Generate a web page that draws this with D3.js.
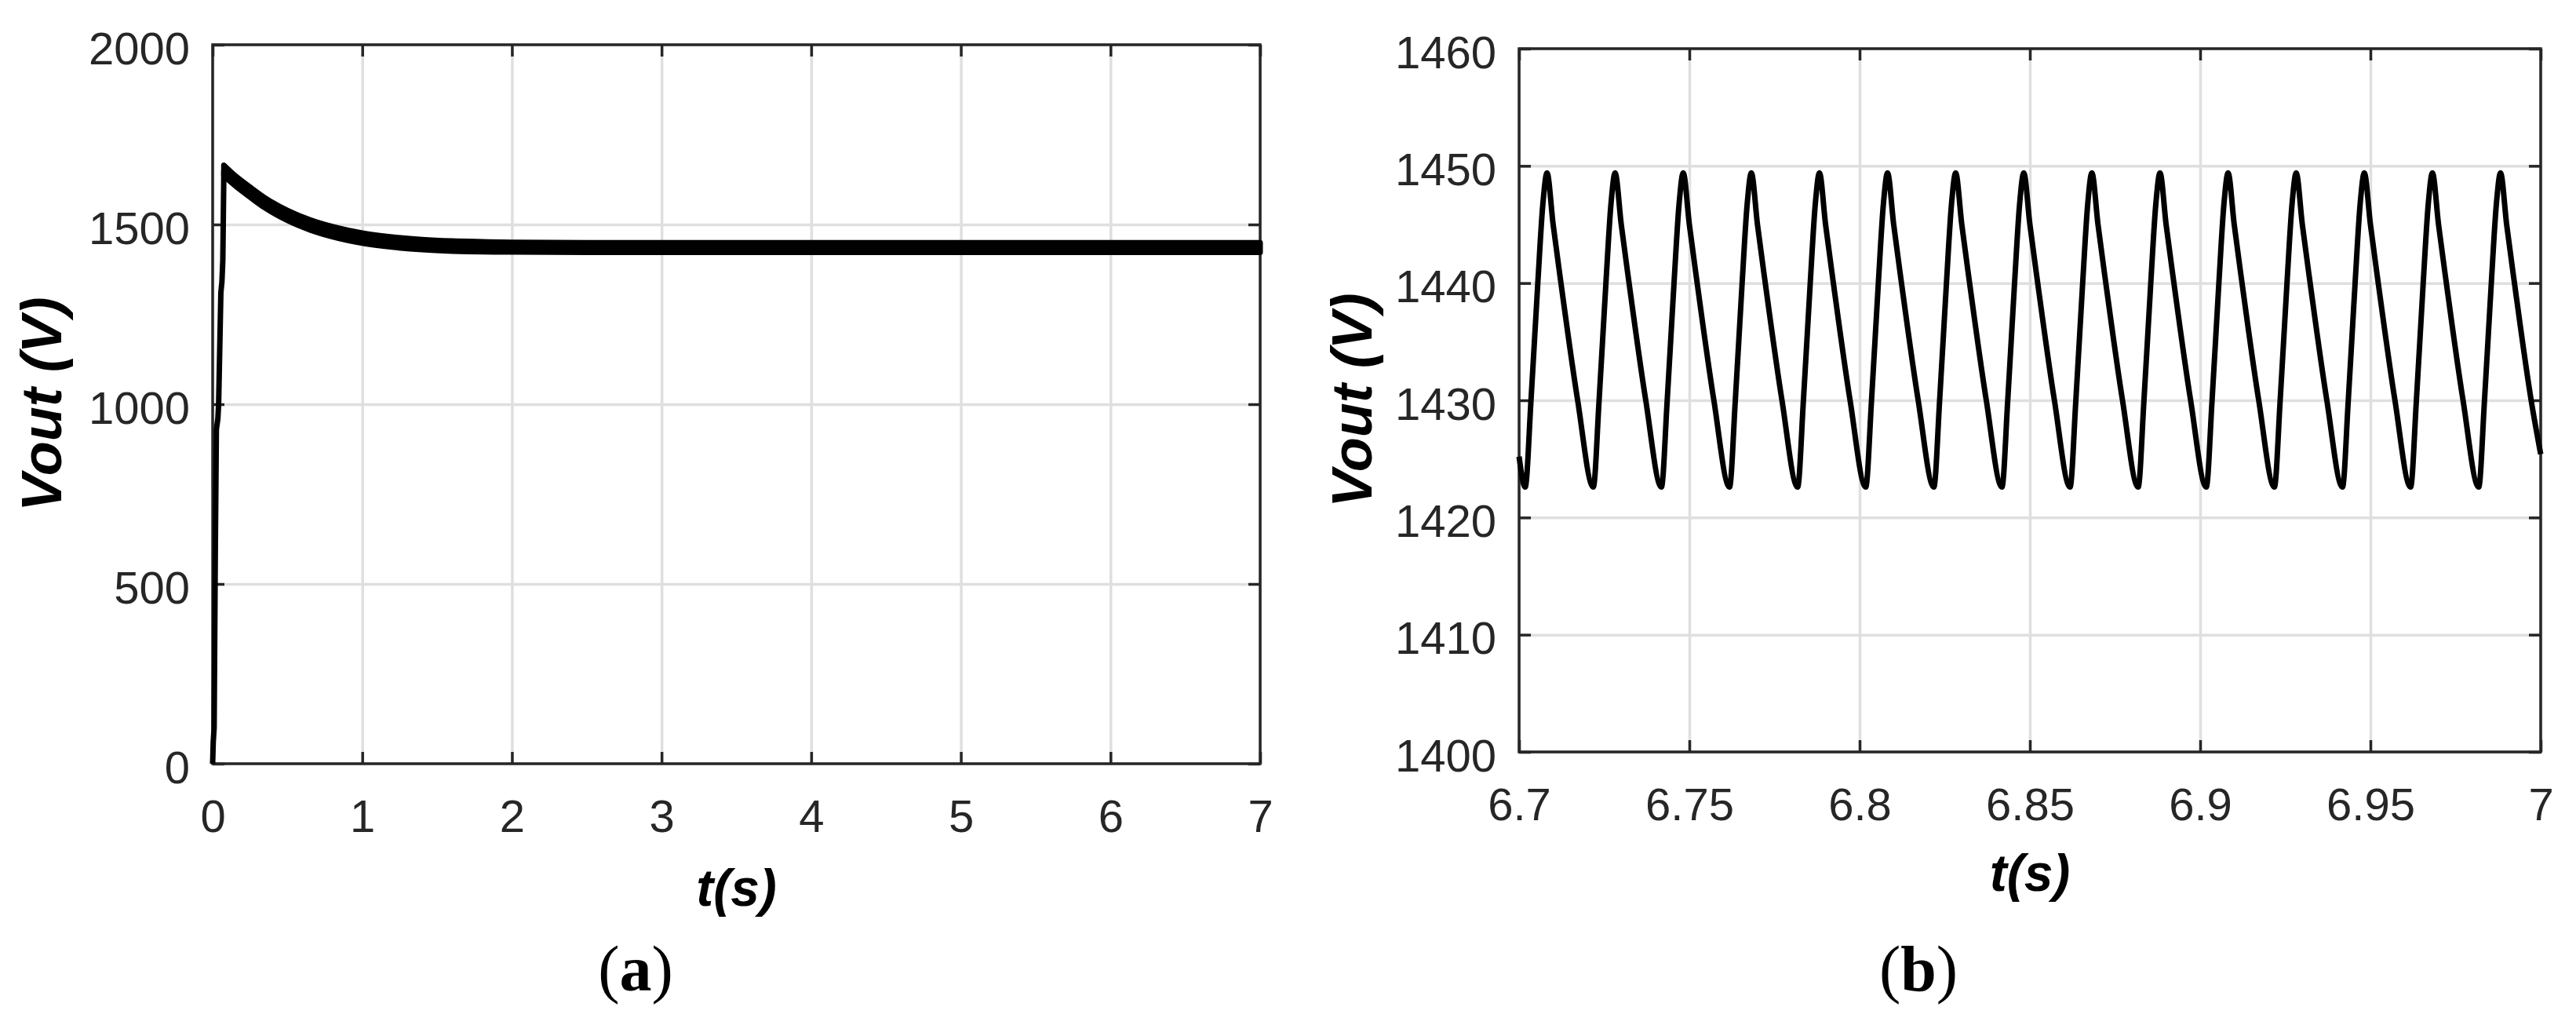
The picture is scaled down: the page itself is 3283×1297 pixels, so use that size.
<!DOCTYPE html>
<html>

<head>

<meta charset="utf-8">
<style>

    body {
        margin: 0;
        background: #fff;
    }

    svg {
        display: block;
        background: #fff;
    }

    .grid line {
        stroke: #dfdfdf;
        stroke-width: 3.5;
    }

    .grid path, .ticks path {
        display: none;
    }

    .ticks line {
        stroke: #262626;
        stroke-width: 3.5;
    }

    .ticks text {
        font-family: "Liberation Sans", Arial, sans-serif;
        font-size: 58px;
        fill: #262626;
    }

    .frame {
        fill: none;
        stroke: #262626;
        stroke-width: 3.5;
    }

    .axlabel {
        font-family: "Liberation Sans", Arial, sans-serif;
        font-size: 66px;
        font-weight: bold;
        font-style: italic;
        fill: #000;
    }

    .ylab {
        font-size: 72px;
    }

    .caption {
        font-family: "Liberation Serif", "Times New Roman", serif;
        font-size: 82px;
        fill: #000;
    }

</style>

</head>

<body>

<script src="https://d3js.org/d3.v7.min.js"></script>

<script>

    // (a) start-up transient, 0..7 s
    var aRiseT = [0.000, 0.004, 0.010, 0.018, 0.025, 0.035, 0.040, 0.055, 0.062, 0.068, 0.075];
    var aRiseV = [0, 60, 100, 600, 930, 960, 1000, 1310, 1340, 1400, 1650];

    // ripple envelope (upper / lower) after the overshoot
    var aEnvT  = [0.075, 0.15, 0.25, 0.35, 0.5, 0.65, 0.8, 1.0, 1.2, 1.4, 1.6, 1.8, 2.0, 2.5, 3, 4, 5, 6, 7];
    var aEnvHi = [1665, 1636, 1604, 1574, 1539, 1513, 1494, 1476, 1465, 1458, 1454, 1452, 1450.5, 1449.5, 1449.4, 1449.4, 1449.4, 1449.4, 1449.4];
    var aEnvLo = [1635, 1608, 1576, 1546, 1511, 1485, 1466, 1448, 1437, 1430, 1426, 1424, 1423.5, 1422.6, 1422.6, 1422.6, 1422.6, 1422.6, 1422.6];

    var aTicksX = [0, 1, 2, 3, 4, 5, 6, 7];
    var aTicksY = [0, 500, 1000, 1500, 2000];

    // (b) zoom on the steady-state ripple, 6.7..7 s
    var bT = [
        6.7000,
        6.7018, 6.7035, 6.7055, 6.7070, 6.7082, 6.7100, 6.7123, 6.7172,
        6.7218, 6.7235, 6.7255, 6.7270, 6.7282, 6.7300, 6.7323, 6.7372,
        6.7418, 6.7435, 6.7455, 6.7470, 6.7482, 6.7500, 6.7523, 6.7572,
        6.7618, 6.7635, 6.7655, 6.7670, 6.7682, 6.7700, 6.7723, 6.7772,
        6.7818, 6.7835, 6.7855, 6.7870, 6.7882, 6.7900, 6.7923, 6.7972,
        6.8018, 6.8035, 6.8055, 6.8070, 6.8082, 6.8100, 6.8123, 6.8172,
        6.8218, 6.8235, 6.8255, 6.8270, 6.8282, 6.8300, 6.8323, 6.8372,
        6.8418, 6.8435, 6.8455, 6.8470, 6.8482, 6.8500, 6.8523, 6.8572,
        6.8618, 6.8635, 6.8655, 6.8670, 6.8682, 6.8700, 6.8723, 6.8772,
        6.8818, 6.8835, 6.8855, 6.8870, 6.8882, 6.8900, 6.8923, 6.8972,
        6.9018, 6.9035, 6.9055, 6.9070, 6.9082, 6.9100, 6.9123, 6.9172,
        6.9218, 6.9235, 6.9255, 6.9270, 6.9282, 6.9300, 6.9323, 6.9372,
        6.9418, 6.9435, 6.9455, 6.9470, 6.9482, 6.9500, 6.9523, 6.9572,
        6.9618, 6.9635, 6.9655, 6.9670, 6.9682, 6.9700, 6.9723, 6.9772,
        6.9818, 6.9835, 6.9855, 6.9870, 6.9882, 6.9900, 6.9923, 6.9972,
        7.0000
    ];
    var bV = [
        1425.2,
        1422.6, 1430, 1440, 1446.8, 1449.4, 1445, 1440, 1430,
        1422.6, 1430, 1440, 1446.8, 1449.4, 1445, 1440, 1430,
        1422.6, 1430, 1440, 1446.8, 1449.4, 1445, 1440, 1430,
        1422.6, 1430, 1440, 1446.8, 1449.4, 1445, 1440, 1430,
        1422.6, 1430, 1440, 1446.8, 1449.4, 1445, 1440, 1430,
        1422.6, 1430, 1440, 1446.8, 1449.4, 1445, 1440, 1430,
        1422.6, 1430, 1440, 1446.8, 1449.4, 1445, 1440, 1430,
        1422.6, 1430, 1440, 1446.8, 1449.4, 1445, 1440, 1430,
        1422.6, 1430, 1440, 1446.8, 1449.4, 1445, 1440, 1430,
        1422.6, 1430, 1440, 1446.8, 1449.4, 1445, 1440, 1430,
        1422.6, 1430, 1440, 1446.8, 1449.4, 1445, 1440, 1430,
        1422.6, 1430, 1440, 1446.8, 1449.4, 1445, 1440, 1430,
        1422.6, 1430, 1440, 1446.8, 1449.4, 1445, 1440, 1430,
        1422.6, 1430, 1440, 1446.8, 1449.4, 1445, 1440, 1430,
        1422.6, 1430, 1440, 1446.8, 1449.4, 1445, 1440, 1430,
        1425.4
    ];

    var bTicksX = [6.7, 6.75, 6.8, 6.85, 6.9, 6.95, 7];
    var bTickLabelsX = ["6.7", "6.75", "6.8", "6.85", "6.9", "6.95", "7"];
    var bTicksY = [1400, 1410, 1420, 1430, 1440, 1450, 1460];

    var svg = d3.select("body").append("svg")
        .attr("width", 3283)
        .attr("height", 1297);

    function panel(p) {
        var x = d3.scaleLinear().domain(p.xDomain).range([p.left, p.right]);
        var y = d3.scaleLinear().domain(p.yDomain).range([p.bottom, p.top]);
        var w = p.right - p.left, h = p.bottom - p.top;
        var g = svg.append("g");

        // grid
        g.append("g").attr("class", "grid")
            .attr("transform", "translate(0," + p.bottom + ")")
            .call(d3.axisBottom(x).tickValues(p.ticksX).tickSize(-h).tickFormat(""));
        g.append("g").attr("class", "grid")
            .attr("transform", "translate(" + p.left + ",0)")
            .call(d3.axisLeft(y).tickValues(p.ticksY).tickSize(-w).tickFormat(""));

        // box + inward ticks on all sides
        g.append("rect").attr("class", "frame")
            .attr("x", p.left).attr("y", p.top).attr("width", w).attr("height", h);

        var bottom = g.append("g").attr("class", "ticks")
            .attr("transform", "translate(0," + p.bottom + ")")
            .call(d3.axisBottom(x).tickValues(p.ticksX).tickSizeInner(-15).tickSizeOuter(0)
                .tickFormat(function(d, i) { return p.labelsX[i]; }));
        bottom.selectAll("text").attr("y", p.xLabelBase).attr("dy", null);

        var left = g.append("g").attr("class", "ticks")
            .attr("transform", "translate(" + p.left + ",0)")
            .call(d3.axisLeft(y).tickValues(p.ticksY).tickSizeInner(-15).tickSizeOuter(0)
                .tickFormat(function(d) { return d; }));
        left.selectAll("text").attr("x", -29).attr("dy", 24);

        g.append("g").attr("class", "ticks")
            .attr("transform", "translate(0," + p.top + ")")
            .call(d3.axisTop(x).tickValues(p.ticksX).tickSizeInner(-15).tickSizeOuter(0).tickFormat(""));
        g.append("g").attr("class", "ticks")
            .attr("transform", "translate(" + p.right + ",0)")
            .call(d3.axisRight(y).tickValues(p.ticksY).tickSizeInner(-15).tickSizeOuter(0).tickFormat(""));

        // axis titles
        g.append("text").attr("class", "axlabel ylab")
            .attr("text-anchor", "middle")
            .attr("transform", "translate(" + p.yTitleX + "," + ((p.top + p.bottom) / 2) + ") rotate(-90)")
            .text("Vout (V)");
        g.append("text").attr("class", "axlabel")
            .attr("text-anchor", "middle")
            .attr("x", (p.left + p.right) / 2)
            .attr("y", p.xTitleY)
            .text("t(s)");

        var cap = g.append("text").attr("class", "caption")
            .attr("text-anchor", "middle")
            .attr("x", p.capX)
            .attr("y", 1262);
        cap.append("tspan").text("(");
        cap.append("tspan").attr("font-weight", "bold").text(p.cap);
        cap.append("tspan").text(")");

        return { g: g, x: x, y: y };
    }

    // ---- (a)
    var pa = panel({
        left: 271, right: 1606, top: 57, bottom: 973,
        xDomain: [0, 7], yDomain: [0, 2000],
        ticksX: aTicksX, ticksY: aTicksY,
        labelsX: aTicksX.map(String),
        xLabelBase: 87, yTitleX: 78, xTitleY: 1154,
        cap: "a", capX: 810
    });

    var rise = aRiseT.map(function(t, i) { return [t, aRiseV[i]]; });
    var env = aEnvT.map(function(t, i) { return { t: t, hi: aEnvHi[i], lo: aEnvLo[i] }; });

    pa.g.append("path")
        .datum(rise)
        .attr("fill", "none")
        .attr("stroke", "#000")
        .attr("stroke-width", 7)
        .attr("stroke-linejoin", "round")
        .attr("d", d3.line()
            .x(function(d) { return pa.x(d[0]); })
            .y(function(d) { return pa.y(d[1]); }));

    pa.g.append("path")
        .datum(env)
        .attr("fill", "#000")
        .attr("stroke", "#000")
        .attr("stroke-width", 7)
        .attr("stroke-linejoin", "round")
        .attr("d", d3.area()
            .curve(d3.curveMonotoneX)
            .x(function(d) { return pa.x(d.t); })
            .y0(function(d) { return pa.y(d.lo); })
            .y1(function(d) { return pa.y(d.hi); }));

    // ---- (b)
    var pb = panel({
        left: 1936, right: 3238, top: 62, bottom: 958,
        xDomain: [6.7, 7], yDomain: [1400, 1460],
        ticksX: bTicksX, ticksY: bTicksY,
        labelsX: bTickLabelsX,
        xLabelBase: 87, yTitleX: 1748, xTitleY: 1135,
        cap: "b", capX: 2445
    });

    var ripple = bT.map(function(t, i) { return [t, bV[i]]; });

    pb.g.append("path")
        .datum(ripple)
        .attr("fill", "none")
        .attr("stroke", "#000")
        .attr("stroke-width", 7)
        .attr("stroke-linejoin", "round")
        .attr("d", d3.line()
            .curve(d3.curveMonotoneX)
            .x(function(d) { return pb.x(d[0]); })
            .y(function(d) { return pb.y(d[1]); }));

</script>
</body>
</html>
